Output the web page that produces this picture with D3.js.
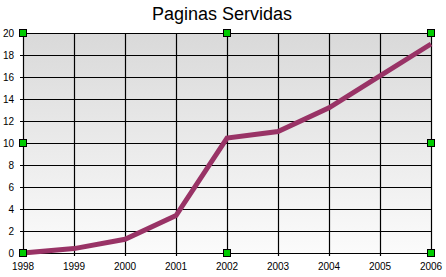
<!DOCTYPE html>
<html>
<head>
<meta charset="utf-8">
<script src="https://cdn.jsdelivr.net/npm/d3@7"></script>
<style>
  body { margin: 0; background: #fff; }
  svg text { font-family: 'Liberation Sans', Arial, sans-serif; }
</style>
</head>
<body>
<div id="chart"></div>
<script>
const years = [1998, 1999, 2000, 2001, 2002, 2003, 2004, 2005, 2006]
const paginas = [0, 0.4, 1.25, 3.4, 10.45, 11.05, 13.2, 16.1, 19.0]
const yTicks = [0, 2, 4, 6, 8, 10, 12, 14, 16, 18, 20]

const W = 446, H = 277
const margin = { top: 33, right: 15, bottom: 24, left: 23 }
const width = W - margin.left - margin.right,
  height = H - margin.top - margin.bottom

const svg = d3.select('#chart').append('svg')
  .attr('width', W).attr('height', H)

// background gradient
const grad = svg.append('defs').append('linearGradient')
  .attr('id', 'bg').attr('x1', 0).attr('y1', 0).attr('x2', 0).attr('y2', 1)
grad.append('stop').attr('offset', '0%').attr('stop-color', '#d9d9d9')
grad.append('stop').attr('offset', '100%').attr('stop-color', '#fbfbfb')

svg.append('text')
  .attr('x', 222).attr('y', 20)
  .attr('text-anchor', 'middle')
  .style('font-size', '18px')
  .text('Paginas Servidas')

const g = svg.append('g').attr('transform', `translate(${margin.left},${margin.top})`)

const x = d3.scaleLinear().domain([1998, 2006]).range([0, width])
const y = d3.scaleLinear().domain([0, 20]).range([height, 0])

g.append('rect').attr('width', width).attr('height', height).attr('fill', 'url(#bg)')

// grid
g.append('g').selectAll('line').data(years).join('line')
  .attr('x1', d => Math.round(x(d)) + 0.5).attr('x2', d => Math.round(x(d)) + 0.5)
  .attr('y1', 0).attr('y2', height + 3)
  .attr('stroke', '#000').attr('stroke-width', 1.2)
g.append('g').selectAll('line').data(yTicks).join('line')
  .attr('x1', -3).attr('x2', width)
  .attr('y1', d => Math.round(y(d)) + 0.5).attr('y2', d => Math.round(y(d)) + 0.5)
  .attr('stroke', '#000').attr('stroke-width', 1.2)

// axis labels
g.append('g').selectAll('text').data(yTicks).join('text')
  .attr('x', -9).attr('y', d => y(d) + 4)
  .attr('text-anchor', 'end')
  .style('font-size', '10px')
  .text(d => d)
g.append('g').selectAll('text').data(years).join('text')
  .attr('x', d => x(d)).attr('y', height + 17)
  .attr('text-anchor', 'middle')
  .style('font-size', '10px')
  .text(d => d)

// line
const line = d3.line().x((d, i) => x(years[i])).y(d => y(d))
g.append('path').datum(paginas)
  .attr('d', line)
  .attr('fill', 'none')
  .attr('stroke', '#993366')
  .attr('stroke-width', 5)

// selection handles
const handles = [[0, 0], [0.5, 0], [1, 0], [0, 0.5], [1, 0.5], [0, 1], [0.5, 1], [1, 1]]
g.append('g').selectAll('rect').data(handles).join('rect')
  .attr('x', d => Math.round(d[0] * width) - 3.5)
  .attr('y', d => Math.round(d[1] * height) - 3.5)
  .attr('width', 7).attr('height', 7)
  .attr('fill', '#00cc00').attr('stroke', '#000').attr('stroke-width', 1)
</script>
</body>
</html>
